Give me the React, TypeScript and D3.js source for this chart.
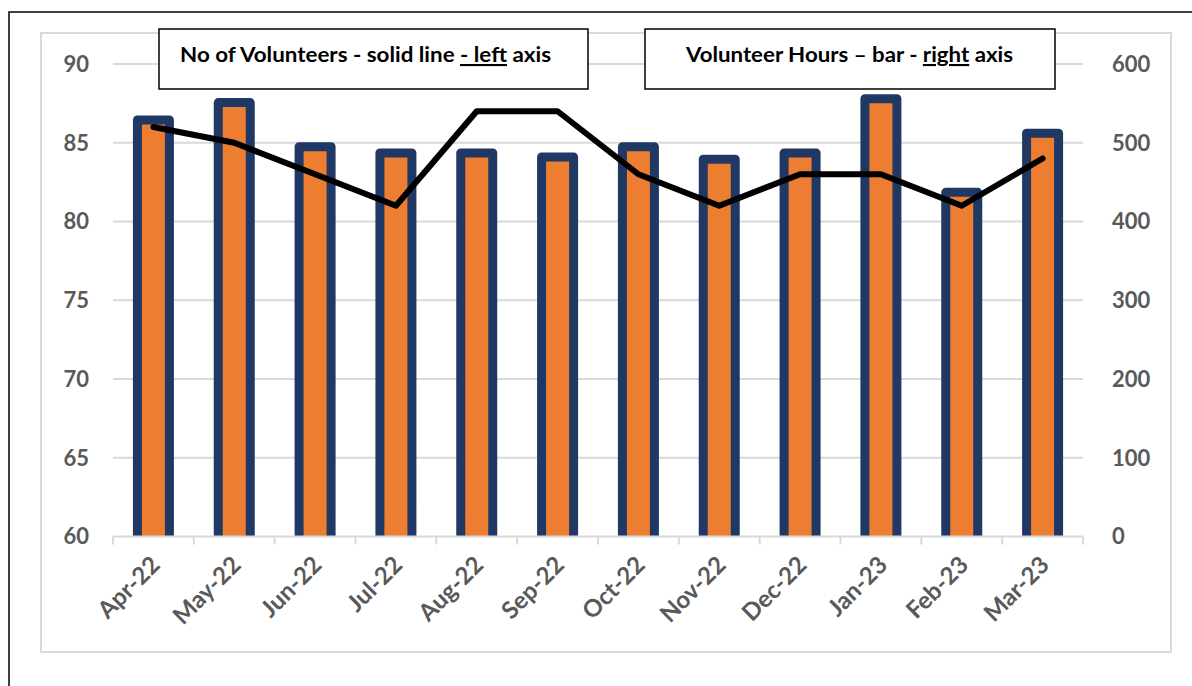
import React from "react";
import * as d3 from "d3";

const categories = ["Apr-22","May-22","Jun-22","Jul-22","Aug-22","Sep-22","Oct-22","Nov-22","Dec-22","Jan-23","Feb-23","Mar-23"];
const volunteerHours = [529, 551, 495, 487, 487, 482, 495, 479, 487, 556, 437, 512];
const volunteers = [86, 85, 83, 81, 87, 87, 83, 81, 83, 83, 81, 84];
const leftTicks = [60, 65, 70, 75, 80, 85, 90];
const rightTicks = [0, 100, 200, 300, 400, 500, 600];

const W = 1192, H = 686;
const plot = { left: 113, right: 1083, top: 64, bottom: 536.5 };

export default function App() {
  const x = d3.scaleBand<string>().domain(categories).range([plot.left, plot.right]).padding(0);
  const yL = d3.scaleLinear().domain([60, 90]).range([plot.bottom, plot.top]);
  const yR = d3.scaleLinear().domain([0, 600]).range([plot.bottom, plot.top]);
  const barW = 32;
  const line = d3.line<number>()
    .x((_, i) => (x(categories[i]) as number) + x.bandwidth() / 2)
    .y((d) => yL(d));
  const grid = "#d9d9d9";
  const labelColor = "#595959";
  const font = "Lato, 'Open Sans', sans-serif";
  const boundaries = d3.range(categories.length + 1).map((i) => plot.left + i * x.bandwidth());

  return (
    <svg width={W} height={H} style={{ position: "absolute", left: 0, top: 0, background: "#fff" }} fontFamily={font}>
      <defs>
        <clipPath id="plotclip">
          <rect x={0} y={0} width={W} height={plot.bottom} />
        </clipPath>
      </defs>
      <rect x={9} y={12} width={1300} height={800} fill="#fff" stroke="#000" strokeWidth={1.5} />
      <rect x={41} y={33} width={1130} height={619} fill="#fff" stroke={grid} strokeWidth={2} />
      {leftTicks.map((t) => (
        <g key={"l" + t}>
          {t !== 60 && (
            <line x1={plot.left} x2={plot.right} y1={yL(t)} y2={yL(t)} stroke={grid} strokeWidth={2} />
          )}
          <text x={89} y={yL(t)} dy="0.36em" textAnchor="end" fontSize={22} fontWeight={700} fill={labelColor}>{t}</text>
        </g>
      ))}
      {rightTicks.map((t) => (
        <text key={"r" + t} x={1112} y={yR(t)} dy="0.36em" textAnchor="start" fontSize={22} fontWeight={700} fill={labelColor}>{t}</text>
      ))}
      <g clipPath="url(#plotclip)">
        {volunteerHours.map((v, i) => {
          const cx = (x(categories[i]) as number) + x.bandwidth() / 2;
          return (
            <rect key={"b" + i} x={cx - barW / 2} y={yR(v)} width={barW} height={plot.bottom - yR(v) + 10}
              fill="#ed7d31" stroke="#203864" strokeWidth={9} strokeLinejoin="round" />
          );
        })}
      </g>
      <line x1={plot.left} x2={plot.right} y1={plot.bottom} y2={plot.bottom} stroke={grid} strokeWidth={2} />
      {boundaries.map((bx, i) => (
        <line key={"t" + i} x1={bx} x2={bx} y1={plot.bottom} y2={plot.bottom + 8} stroke={grid} strokeWidth={2} />
      ))}
      {categories.map((c) => {
        const cx = (x(c) as number) + x.bandwidth() / 2;
        return (
          <text key={"x" + c} transform={`translate(${cx + 8},${plot.bottom + 30}) rotate(-45)`} textAnchor="end"
            fontSize={24} fontWeight={700} fill={labelColor}>{c}</text>
        );
      })}
      <path d={line(volunteers) || ""} fill="none" stroke="#000" strokeWidth={6} strokeLinecap="round" strokeLinejoin="round" />
      <rect x={159} y={29} width={429} height={60} fill="#fff" stroke="#000" strokeWidth={1.5} />
      <text x={180} y={62} fontSize={21} fontWeight={700} fill="#000" textLength={371} lengthAdjust="spacingAndGlyphs">
        No of Volunteers - solid line <tspan style={{ textDecoration: "underline" }}>- left</tspan> axis
      </text>
      <rect x={645} y={29} width={410} height={60} fill="#fff" stroke="#000" strokeWidth={1.5} />
      <text x={686} y={62} fontSize={21} fontWeight={700} fill="#000" textLength={327} lengthAdjust="spacingAndGlyphs">
        Volunteer Hours – bar - <tspan style={{ textDecoration: "underline" }}>right</tspan> axis
      </text>
    </svg>
  );
}
